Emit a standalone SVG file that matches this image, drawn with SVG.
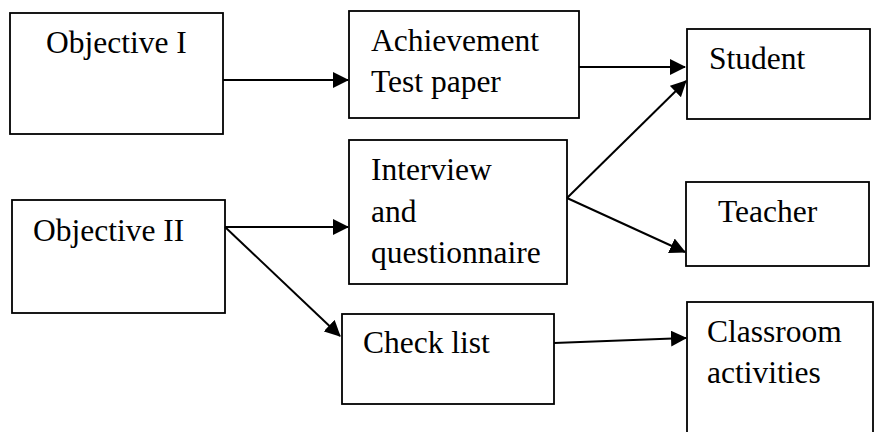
<svg xmlns="http://www.w3.org/2000/svg" width="874" height="432" viewBox="0 0 874 432">
<style>
.box{fill:#fff;stroke:#000;stroke-width:1.8}
.lbl{font-family:"Liberation Serif","Times New Roman",serif;font-size:31.5px;fill:#000}
.con{stroke:#000;stroke-width:2;fill:none;marker-end:url(#ah)}
</style>
<defs>
<marker id="ah" viewBox="0 0 16 16" refX="15" refY="8" markerWidth="16" markerHeight="16" markerUnits="userSpaceOnUse" orient="auto">
<path d="M0,0 L16,8 L0,16 z" fill="#000"/>
</marker>
</defs>
<rect width="874" height="432" fill="#fff"/>
<g id="obj1"><rect class="box" x="10" y="13" width="213" height="121"/><text class="lbl" x="46" y="53">Objective I</text></g>
<g id="obj2"><rect class="box" x="12" y="200" width="213" height="113"/><text class="lbl" x="33" y="241">Objective II</text></g>
<g id="achieve"><rect class="box" x="349" y="11" width="230" height="107"/><text class="lbl" x="371" y="51">Achievement</text><text class="lbl" x="371" y="92">Test paper</text></g>
<g id="interview"><rect class="box" x="349" y="140" width="218" height="144"/><text class="lbl" x="371" y="180">Interview</text><text class="lbl" x="371" y="222">and</text><text class="lbl" x="371" y="263">questionnaire</text></g>
<g id="checklist"><rect class="box" x="342" y="314" width="212" height="90"/><text class="lbl" x="363" y="353">Check list</text></g>
<g id="student"><rect class="box" x="687" y="29" width="183" height="90"/><text class="lbl" x="709" y="69">Student</text></g>
<g id="teacher"><rect class="box" x="686" y="182" width="183" height="84"/><text class="lbl" x="718" y="222">Teacher</text></g>
<g id="classroom"><rect class="box" x="687" y="302" width="186" height="145"/><text class="lbl" x="707" y="342">Classroom</text><text class="lbl" x="707" y="383">activities</text></g>
<g id="connectors">
<line class="con" x1="223" y1="80" x2="348" y2="80"/>
<line class="con" x1="579" y1="67" x2="685" y2="67"/>
<line class="con" x1="567" y1="198" x2="686" y2="81"/>
<line class="con" x1="567" y1="198" x2="685" y2="252"/>
<line class="con" x1="225" y1="227" x2="348" y2="227"/>
<line class="con" x1="225" y1="227" x2="340" y2="336"/>
<line class="con" x1="554" y1="343" x2="686" y2="338"/>
</g>
</svg>
